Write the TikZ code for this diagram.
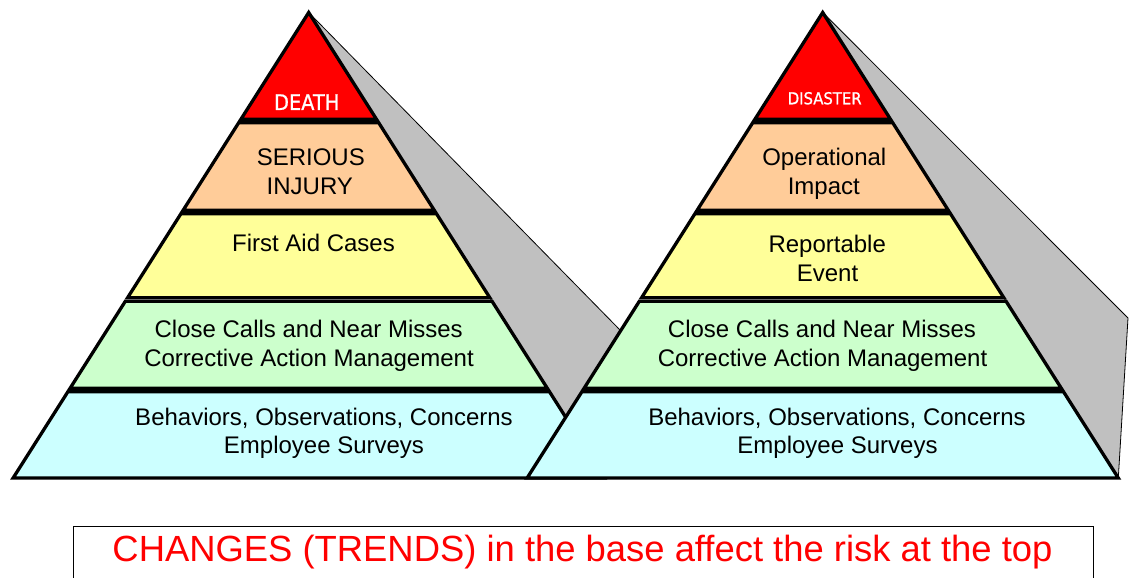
\documentclass[tikz,border=0pt]{standalone}
\usepackage{fontspec}
\setmainfont{Liberation Sans}
\newfontfamily\capfont{DejaVu Sans}[FakeStretch=0.9,FakeBold=1]
\definecolor{topred}{HTML}{FF0000}
\definecolor{peach}{HTML}{FFCC99}
\definecolor{paleyellow}{HTML}{FFFF99}
\definecolor{palegreen}{HTML}{CCFFCC}
\definecolor{palecyan}{HTML}{CCFFFF}
\definecolor{facegray}{HTML}{C0C0C0}
\begin{document}
\begin{tikzpicture}[x=1pt,y=-1pt,
  band/.style={draw=black, line width=3.3pt, line join=miter},
  face/.style={fill=facegray, draw=black, line width=0.8pt, line join=round},
  lbl/.style={anchor=base, inner sep=0pt, text=black, font=\fontsize{24}{28.8}\selectfont},
  toplbl/.style={anchor=base, inner sep=0pt, text=white},
  note/.style={anchor=base, inner sep=0pt, text=topred, font=\fontsize{36.4}{40}\selectfont},
  notebox/.style={draw=black, line width=1pt}
]
\useasboundingbox (0,0) rectangle (1130,578);
\clip (0,0) rectangle (1130,578);
\def\sl{0.635}
\newcommand\sideface[4]{%
  \path[face] (#1,#2) -- (#3,#4) -- ({#1+\sl*(478-#2)},478) -- cycle;}
\newcommand\pyrband[5]{% apex x, apex y, top y, bottom y, colour
  \path[band, fill=#5] ({#1-\sl*(#3-#2)},#3) -- ({#1+\sl*(#3-#2)},#3)
    -- ({#1+\sl*(#4-#2)},#4) -- ({#1-\sl*(#4-#2)},#4) -- cycle;}
\newcommand\pyramid[2]{%
  \path[band, fill=topred] (#1,#2) -- ({#1+\sl*(119.3-#2)},119.3)
    -- ({#1-\sl*(119.3-#2)},119.3) -- cycle;
  \pyrband{#1}{#2}{122.7}{210.3}{peach}
  \pyrband{#1}{#2}{213.7}{297.8}{paleyellow}
  \pyrband{#1}{#2}{301.2}{388.3}{palegreen}
  \pyrband{#1}{#2}{391.7}{478}{palecyan}}

% left pyramid
\sideface{308.7}{12.5}{660.2}{371}
\pyramid{308.7}{12.5}
% right pyramid
\sideface{822.7}{12.5}{1128}{318}
\pyramid{822.7}{12.5}

% left labels
\node[toplbl, font={\capfont\fontsize{21.5}{24}\selectfont}] (death) at (306.7,110) {DEATH};
\node[lbl] (serious) at (310.8,165.7) {SERIOUS};
\node[lbl] (injury) at (309.8,194.3) {INJURY};
\node[lbl] (firstaid) at (313.5,251.7) {First Aid Cases};
\node[lbl] (lclose) at (308.7,337.7) {Close Calls and Near Misses};
\node[lbl] (lcorr) at (309,366.7) {Corrective Action Management};
\node[lbl] (lbehav) at (324,425) {Behaviors, Observations, Concerns};
\node[lbl] (lsurv) at (324,453.3) {Employee Surveys};

% right labels
\node[toplbl, font={\capfont\fontsize{16.5}{19}\selectfont}] (disaster) at (824.7,104.3) {DISASTER};
\node[lbl] (oper) at (824.3,165.7) {Operational};
\node[lbl] (impact) at (823.8,194) {Impact};
\node[lbl] (report) at (827.2,252.7) {Reportable};
\node[lbl] (event) at (827.5,281) {Event};
\node[lbl] (rclose) at (822,337.3) {Close Calls and Near Misses};
\node[lbl] (rcorr) at (822.5,366.3) {Corrective Action Management};
\node[lbl] (rbehav) at (837,425) {Behaviors, Observations, Concerns};
\node[lbl] (rsurv) at (837.5,453) {Employee Surveys};

% bottom note
\draw[notebox] (73,526) rectangle (1093,600);
\node[note] (trend) at (582.5,561.7) {CHANGES (TRENDS) in the base affect the risk at the top};
\end{tikzpicture}
\end{document}
